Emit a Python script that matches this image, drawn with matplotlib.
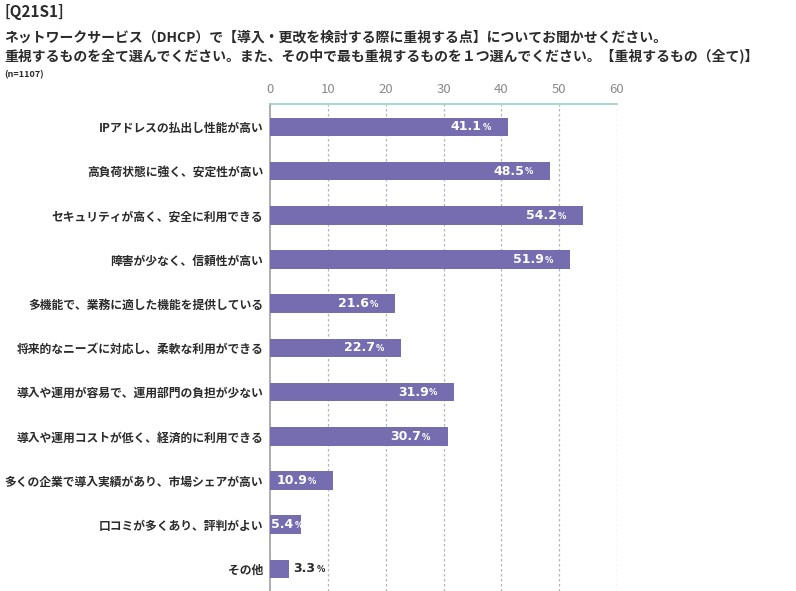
import matplotlib
matplotlib.use('Agg')
import matplotlib.pyplot as plt

plt.rcParams['font.family'] = ['Noto Sans CJK JP', 'DejaVu Sans']

categories = [
    'IPアドレスの払出し性能が高い',
    '高負荷状態に強く、安定性が高い',
    'セキュリティが高く、安全に利用できる',
    '障害が少なく、信頼性が高い',
    '多機能で、業務に適した機能を提供している',
    '将来的なニーズに対応し、柔軟な利用ができる',
    '導入や運用が容易で、運用部門の負担が少ない',
    '導入や運用コストが低く、経済的に利用できる',
    '多くの企業で導入実績があり、市場シェアが高い',
    '口コミが多くあり、評判がよい',
    'その他',
]
values = [41.1, 48.5, 54.2, 51.9, 21.6, 22.7, 31.9, 30.7, 10.9, 5.4, 3.3]
xticks = [0, 10, 20, 30, 40, 50, 60]

bar_color = '#756db0'
text_dark = '#2b2b2b'

fig = plt.figure(figsize=(7.96, 5.91), dpi=100)
ax = fig.add_axes([270 / 796, 0.0, 347 / 796, 1 - 104 / 591])

ypos = list(range(len(categories)))
ax.barh(ypos, values, height=0.42, color=bar_color, zorder=3)

ax.set_xlim(0, 60)
ax.set_ylim(10.5, -0.52)

# dashed grid
for x in xticks[1:]:
    ax.axvline(x, color='#b5b5b5', linestyle=(0, (2, 2)), linewidth=0.9, zorder=1)

ax.xaxis.tick_top()
ax.set_xticks(xticks)
ax.set_xticklabels([str(t) for t in xticks], color='#8a8a8a', fontsize=9.5)
ax.tick_params(axis='x', length=0, pad=6)
ax.set_yticks(ypos)
ax.set_yticklabels(categories, fontsize=8.5, color=text_dark, fontweight='bold')
ax.tick_params(axis='y', length=0, pad=5)

for s in ['right', 'bottom']:
    ax.spines[s].set_visible(False)
ax.spines['top'].set_color('#9ccfc8')
ax.spines['top'].set_linewidth(1.2)
ax.spines['left'].set_color('#a0a0a0')
ax.spines['left'].set_linewidth(1.2)

# value labels: number + small "%"
pt = 72 / 100  # points per pixel
for y, v in zip(ypos, values):
    if v >= 8:
        col = 'white'
        num_dx, pct_dx, ha = -26, -17, 'right'
        anchor = v
    elif v >= 5:
        col = 'white'
        num_dx, pct_dx, ha = 1, 25, 'left'
        anchor = 0
    else:
        col = text_dark
        num_dx, pct_dx, ha = 4, 28, 'left'
        anchor = v
    ax.annotate(f'{v:.1f}', (anchor, y), xytext=(num_dx * pt, 0),
                textcoords='offset points', ha=ha, va='center', color=col,
                fontsize=9, fontweight='bold', family='DejaVu Sans', zorder=4)
    ax.annotate('%', (anchor, y), xytext=(pct_dx * pt, -0.5),
                textcoords='offset points', ha=ha, va='center', color=col,
                fontsize=6, fontweight='bold', family='DejaVu Sans', zorder=4)

fig.text(4 / 796, 1 - 12 / 591, '[Q21S1]', fontsize=11, fontweight='bold',
         color=text_dark, va='center')
fig.text(4 / 796, 1 - 37 / 591,
         'ネットワークサービス（DHCP）で【導入・更改を検討する際に重視する点】についてお聞かせください。',
         fontsize=10, fontweight='bold', color=text_dark, va='center')
fig.text(4 / 796, 1 - 56 / 591,
         '重視するものを全て選んでください。また、その中で最も重視するものを１つ選んでください。【重視するもの（全て)】',
         fontsize=10, fontweight='bold', color=text_dark, va='center')
fig.text(4 / 796, 1 - 75 / 591, '(n=1107)', fontsize=6.5, fontweight='bold',
         color=text_dark, va='center')

fig.savefig('out.png', dpi=100, facecolor='white')
